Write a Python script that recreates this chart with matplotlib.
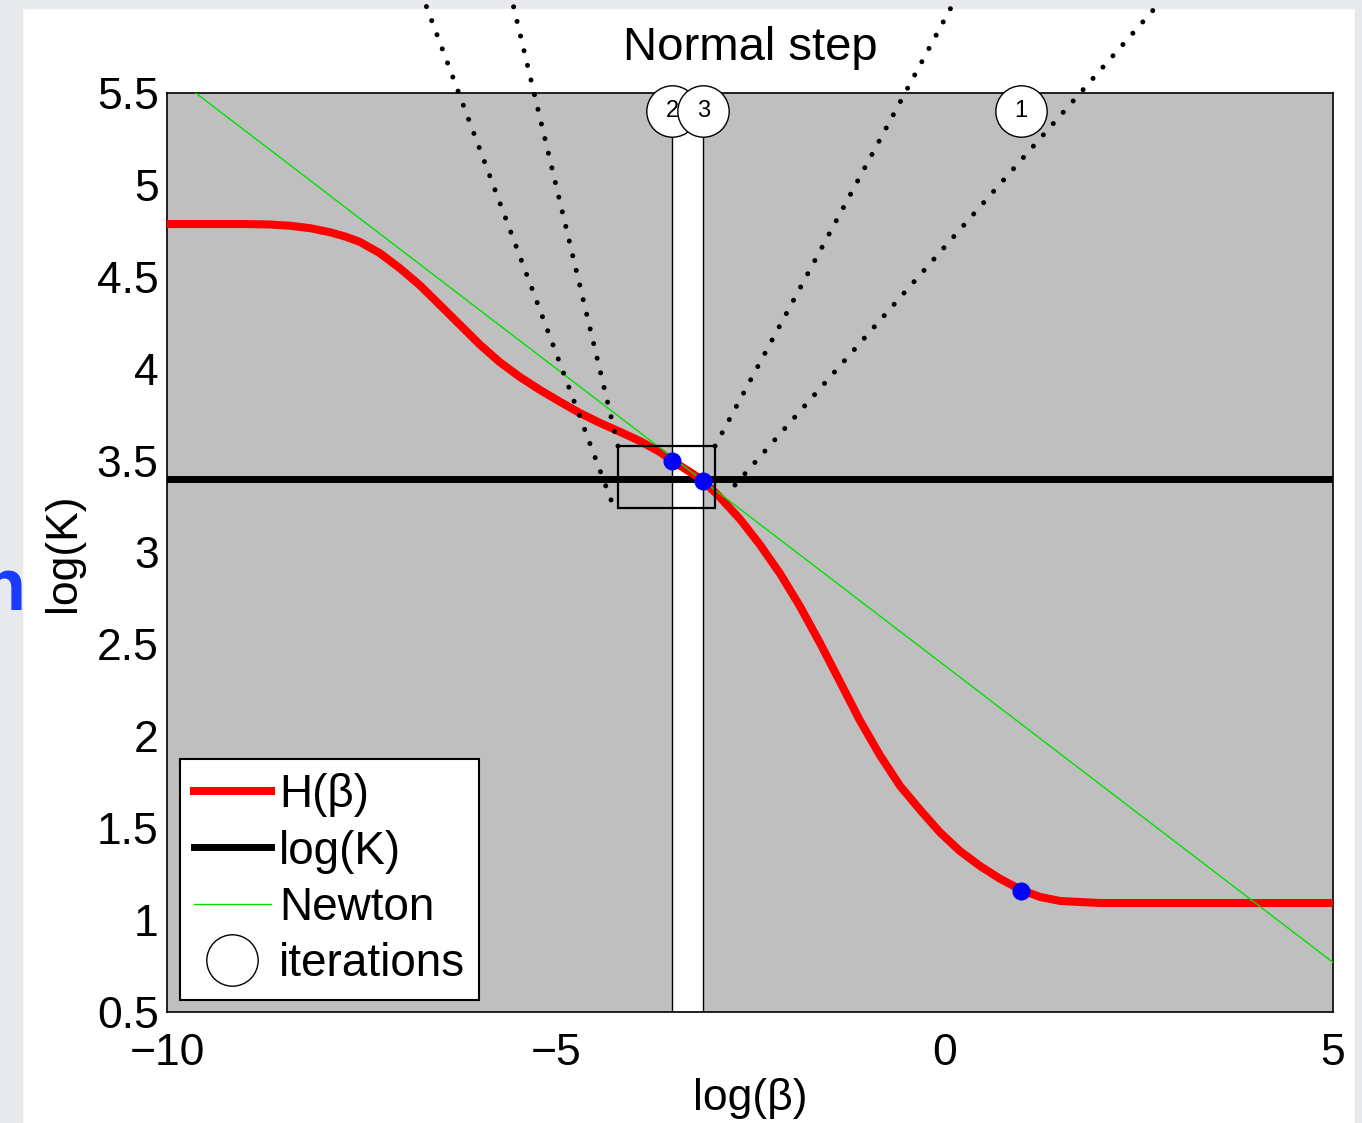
import matplotlib
matplotlib.use("Agg")
import matplotlib.pyplot as plt
from matplotlib.lines import Line2D
from matplotlib.patches import Rectangle

plt.rcParams["font.family"] = ["Liberation Sans", "DejaVu Sans"]

# H(beta)
beta = [-10.0, -9.0, -8.70, -8.42, -8.15, -7.90, -7.70, -7.52, -7.26, -7.00,
        -6.75, -6.49, -6.23, -5.97, -5.72, -5.46, -5.20, -4.94, -4.69, -4.43,
        -4.17, -3.92, -3.66, -3.50, -3.27, -3.10, -2.89, -2.63, -2.37, -2.11,
        -1.86, -1.60, -1.34, -1.09, -0.83, -0.57, -0.31, -0.06, 0.20, 0.46,
        0.72, 0.99, 1.23, 1.49, 2.00, 3.00, 5.00]
h_beta = [4.787, 4.787, 4.785, 4.778, 4.764, 4.742, 4.718, 4.690, 4.628, 4.545,
          4.455, 4.347, 4.238, 4.129, 4.036, 3.955, 3.884, 3.819, 3.759, 3.705,
          3.656, 3.607, 3.547, 3.498, 3.438, 3.389, 3.302, 3.182, 3.041, 2.883,
          2.709, 2.508, 2.295, 2.089, 1.898, 1.730, 1.599, 1.479, 1.376, 1.294,
          1.224, 1.164, 1.126, 1.104, 1.093, 1.093, 1.093]

log_k = 3.40

# Newton tangent line end points
newton_x = [-9.63, 5.0]
newton_y = [5.5, 0.77]

# iterations
iter_x = [0.99, -3.50, -3.10]
iter_y = [1.16, 3.498, 3.389]
iter_labels = ["1", "2", "3"]
label_y = 5.40

# zoom box and the dotted guide lines leaving it
box_x = [-4.20, -2.95]
box_y = [3.24, 3.58]
guide_x0 = [-4.288, -4.198, -2.950, -2.693]
guide_y0 = [3.286, 3.579, 3.579, 3.367]
guide_x1 = [-6.694, -5.562, 0.138, 2.801]
guide_y1 = [6.006, 6.006, 6.006, 6.006]

fig = plt.figure(figsize=(13.62, 11.23), dpi=100)
fig.patch.set_facecolor("white")

# slide background around the figure
slide = "#e8e9ed"
fig.add_artist(Rectangle((0, 0), 22 / 1362, 1, transform=fig.transFigure,
                         color=slide, zorder=0))
fig.add_artist(Rectangle((0, 1 - 8 / 1123), 1, 8 / 1123, transform=fig.transFigure,
                         color=slide, zorder=0))
fig.add_artist(Rectangle((1355 / 1362, 0), 7 / 1362, 1, transform=fig.transFigure,
                         color=slide, zorder=0))
fig.text(26 / 1362, 1 - 610 / 1123, "n", color="#1a3cff", fontsize=53,
         fontweight="bold", ha="right", va="baseline")

ax = fig.add_axes([167 / 1362, 1 - 1012 / 1123, 1166 / 1362, 919 / 1123])
ax.set_facecolor("#bfbfbf")
ax.set_xlim(-10, 5)
ax.set_ylim(0.5, 5.5)

# white band between iterations 2 and 3
ax.axvspan(iter_x[1], iter_x[2], facecolor="white", edgecolor="black",
           linewidth=1.0, zorder=1)

ax.plot(beta, h_beta, color="red", linewidth=5.8, zorder=3,
        solid_joinstyle="round", label="H(β)")
ax.axhline(log_k, color="black", linewidth=5.0, zorder=2, label="log(K)")
ax.plot(newton_x, newton_y, color="#00e000", linewidth=1.0, zorder=4,
        label="Newton")

ax.add_patch(Rectangle((box_x[0], box_y[0]), box_x[1] - box_x[0],
                       box_y[1] - box_y[0], fill=False, edgecolor="black",
                       linewidth=1.6, zorder=5))

ax.plot(iter_x, iter_y, "o", color="blue", markersize=12, zorder=6)

for i in range(len(guide_x0)):
    ax.plot([guide_x0[i], guide_x1[i]], [guide_y0[i], guide_y1[i]],
            color="black", linewidth=3.6, linestyle=(0, (0.01, 3.0)),
            dash_capstyle="round", clip_on=False, zorder=7)

for i, (x, lab) in enumerate(zip(iter_x, iter_labels)):
    ax.plot(x, label_y, "o", markersize=37, markerfacecolor="white",
            markeredgecolor="black", markeredgewidth=1.0, clip_on=False,
            zorder=8 + 2 * i)
    ax.text(x, label_y, lab, fontsize=17, ha="center", va="center",
            zorder=9 + 2 * i, clip_on=False)

ax.set_xticks([-10, -5, 0, 5])
ax.set_yticks([0.5, 1, 1.5, 2, 2.5, 3, 3.5, 4, 4.5, 5, 5.5])
ax.set_yticklabels(["0.5", "1", "1.5", "2", "2.5", "3", "3.5", "4", "4.5", "5", "5.5"])
ax.tick_params(axis="both", length=0, labelsize=32)
ax.tick_params(axis="x", pad=15)
ax.tick_params(axis="y", pad=6)
for s in ax.spines.values():
    s.set_linewidth(1.2)

ax.set_xlabel("log(β)", fontsize=32, labelpad=3)
ax.set_ylabel("log(K)", fontsize=32, labelpad=9)
ax.set_title("Normal step", fontsize=34, pad=24)

handles = [
    Line2D([], [], color="red", linewidth=5.8),
    Line2D([], [], color="black", linewidth=5.0),
    Line2D([], [], color="#00e000", linewidth=1.0),
    Line2D([], [], marker="o", linestyle="none", markersize=37,
           markerfacecolor="white", markeredgecolor="black", markeredgewidth=1.0),
]
leg = ax.legend(handles, ["H(β)", "log(K)", "Newton", "iterations"],
                loc="lower left", bbox_to_anchor=(180 / 1362, 1 - 1000 / 1123),
                bbox_transform=fig.transFigure, borderaxespad=0, fontsize=33,
                handlelength=1.68, handletextpad=0.18, borderpad=0.3,
                labelspacing=0.27, fancybox=False, framealpha=1)
leg.get_frame().set_edgecolor("black")
leg.get_frame().set_linewidth(1.5)
leg.set_zorder(20)

fig.savefig("out.png", dpi=100)
